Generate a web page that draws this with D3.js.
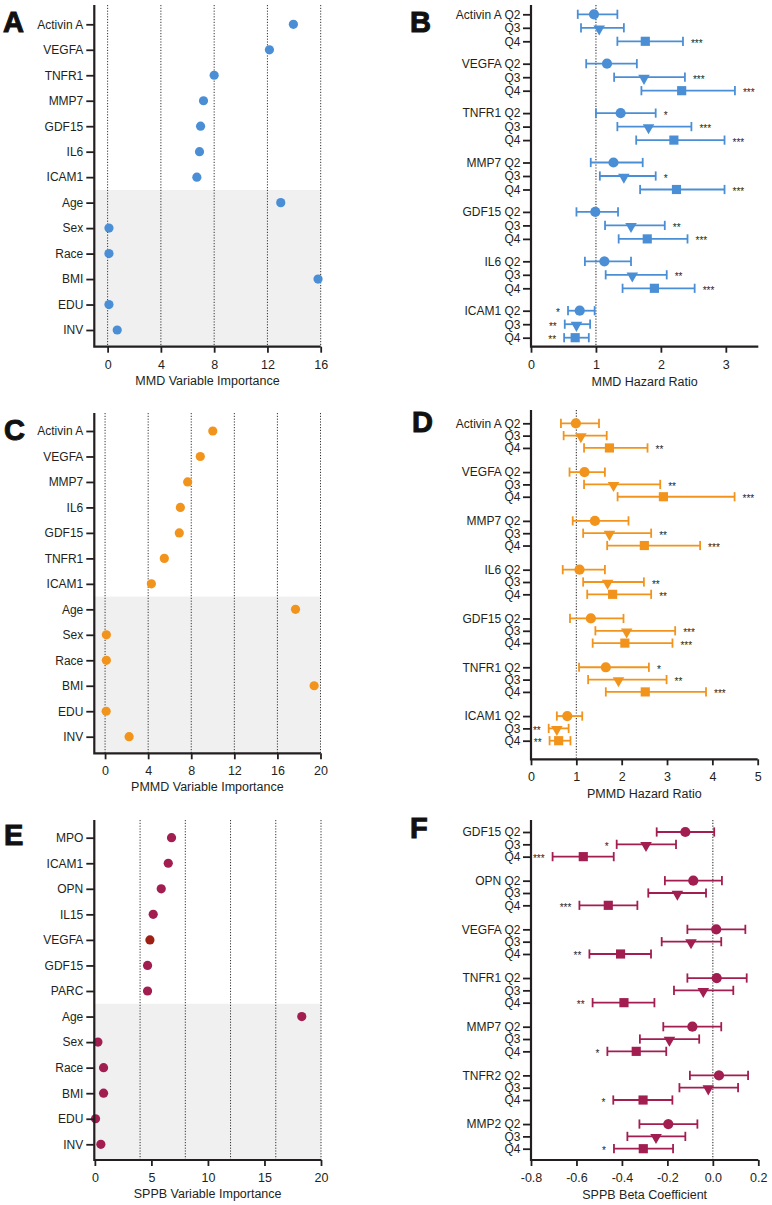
<!DOCTYPE html>
<html><head><meta charset="utf-8">
<script src="https://cdn.jsdelivr.net/npm/d3@7"></script>
<style>
body{margin:0;background:#fff;}
svg{display:block;}
svg text{font-family:"Liberation Sans",Arial,sans-serif;}
</style></head><body>
<svg id="chart" width="772" height="1205"></svg>
<script>
// ---------- DATA ----------
// Panel A: MMD variable importance
const impA_labels = ["Activin A","VEGFA","TNFR1","MMP7","GDF15","IL6","ICAM1","Age","Sex","Race","BMI","EDU","INV"];
const impA_values = [13.95,12.15,8.0,7.2,6.98,6.9,6.7,13.0,0.1,0.1,15.8,0.1,0.72];
const impA_ticks = [0,4,8,12,16];
const impA_grid = [0,4,8,12,16];

// Panel C: PMMD variable importance
const impC_labels = ["Activin A","VEGFA","MMP7","IL6","GDF15","TNFR1","ICAM1","Age","Sex","Race","BMI","EDU","INV"];
const impC_values = [10.0,8.84,7.67,6.99,6.89,5.5,4.3,17.68,0.12,0.12,19.41,0.1,2.23];
const impC_ticks = [0,4,8,12,16,20];
const impC_grid = [0,4,8,12,16,20];

// Panel E: SPPB variable importance
const impE_labels = ["MPO","ICAM1","OPN","IL15","VEGFA","GDF15","PARC","Age","Sex","Race","BMI","EDU","INV"];
const impE_values = [6.78,6.49,5.87,5.16,4.87,4.66,4.66,18.3,0.27,0.77,0.77,0.06,0.53];
const impE_ticks = [0,5,10,15,20];
const impE_grid = [4,8,12,16,20];
const impE_highlight = "VEGFA";

const quartiles = ["Q2","Q3","Q4"];

// Panel B: MMD hazard ratio
const hrB_groups = ["Activin A","VEGFA","TNFR1","MMP7","GDF15","IL6","ICAM1"];
const hrB_est = [[0.97,1.05,1.76],[1.17,1.74,2.32],[1.38,1.81,2.2],[1.27,1.43,2.24],[0.99,1.54,1.79],[1.13,1.56,1.90],[0.75,0.70,0.68]];
const hrB_lo  = [[0.72,0.77,1.33],[0.85,1.28,1.70],[1.0,1.33,1.62],[0.92,1.06,1.68],[0.70,1.14,1.35],[0.83,1.15,1.41],[0.57,0.52,0.51]];
const hrB_hi  = [[1.33,1.43,2.34],[1.63,2.37,3.14],[1.92,2.47,2.98],[1.72,1.92,2.98],[1.34,2.06,2.41],[1.54,2.09,2.52],[0.98,0.91,0.89]];
const hrB_sig = [["","","***"],["","***","***"],["*","***","***"],["","*","***"],["","**","***"],["","**","***"],["*","**","**"]];
const hrB_ticks = [0,1,2,3];

// Panel D: PMMD hazard ratio
const hrD_groups = ["Activin A","VEGFA","MMP7","IL6","GDF15","TNFR1","ICAM1"];
const hrD_est = [[0.99,1.10,1.73],[1.18,1.82,2.92],[1.41,1.73,2.5],[1.07,1.69,1.80],[1.32,2.11,2.07],[1.65,1.93,2.52],[0.80,0.57,0.61]];
const hrD_lo  = [[0.66,0.72,1.17],[0.85,1.17,1.91],[0.92,1.15,1.68],[0.70,1.15,1.24],[0.86,1.42,1.36],[1.06,1.26,1.65],[0.57,0.39,0.41]];
const hrD_hi  = [[1.5,1.67,2.57],[1.63,2.85,4.49],[2.15,2.65,3.73],[1.63,2.49,2.65],[2.04,3.18,3.12],[2.6,2.99,3.86],[1.13,0.83,0.87]];
const hrD_sig = [["","","**"],["","**","***"],["","**","***"],["","**","**"],["","***","***"],["*","**","***"],["","**","**"]];
const hrD_ticks = [0,1,2,3,4,5];

// Panel F: SPPB beta coefficient
const betaF_groups = ["GDF15","OPN","VEGFA","TNFR1","MMP7","TNFR2","MMP2"];
const betaF_est = [[-0.121,-0.294,-0.570],[-0.086,-0.156,-0.460],[0.015,-0.096,-0.406],[0.017,-0.042,-0.391],[-0.090,-0.191,-0.337],[0.027,-0.020,-0.307],[-0.196,-0.250,-0.306]];
const betaF_lo  = [[-0.247,-0.423,-0.705],[-0.211,-0.284,-0.587],[-0.112,-0.225,-0.543],[-0.112,-0.171,-0.529],[-0.218,-0.321,-0.464],[-0.101,-0.147,-0.438],[-0.323,-0.376,-0.435]];
const betaF_hi  = [[0.006,-0.162,-0.436],[0.040,-0.030,-0.332],[0.143,0.037,-0.272],[0.149,0.090,-0.257],[0.037,-0.060,-0.205],[0.155,0.111,-0.178],[-0.068,-0.121,-0.175]];
const betaF_sig = [["","*","***"],["","","***"],["","","**"],["","","**"],["","","*"],["","","*"],["","","*"]];
const betaF_ticks = [-0.8,-0.6,-0.4,-0.2,0,0.2];

// ---------- DRAWING ----------
const svg = d3.select("#chart");
const FONT = '"Liberation Sans", Arial, sans-serif';
const ink = "#231f20";
const BLUE = "#4a8fd6", ORANGE = "#f2941c", CRIMSON = "#a21d50", DARKRED = "#9e2015";

function styleAxis(a, fontSize) {
  a.attr("font-family", null).attr("font-size", null);
  a.select(".domain").remove();
  a.selectAll(".tick line").attr("stroke", ink).attr("stroke-width", 1.8);
  a.selectAll(".tick text").attr("fill", ink).style("font-family", FONT).style("font-size", fontSize + "px");
}

function panelLetter(txt, x, y) {
  svg.append("text").attr("x", x).attr("y", y).text(txt)
    .attr("fill", "#111").style("font-family", FONT).style("font-size", "29px").style("font-weight", "bold")
    .attr("stroke", "#111").attr("stroke-width", 1);
}

function importancePanel(o) {
  const g = svg.append("g");
  const x = d3.scaleLinear().domain(o.xDomain).range([o.left, o.right]);
  const y = d3.scaleLinear().domain([0, o.labels.length - 1]).range([o.firstRow, o.lastRow]);
  const split = (y(o.nBio - 1) + y(o.nBio)) / 2;
  g.append("rect").attr("x", o.left).attr("y", split)
    .attr("width", o.right - o.left).attr("height", o.bottom - split).attr("fill", "#f0f0f0");
  g.selectAll("line.grid").data(o.grid).join("line").attr("class", "grid")
    .attr("x1", d => x(d)).attr("x2", d => x(d)).attr("y1", o.top).attr("y2", o.bottom)
    .attr("stroke", "#333").attr("stroke-width", 1).attr("stroke-dasharray", "1.2,1.6");
  g.selectAll("circle").data(o.values).join("circle")
    .attr("cx", d => x(d)).attr("cy", (d, i) => y(i)).attr("r", 4.6)
    .attr("fill", (d, i) => (o.highlight && o.labels[i] === o.highlight) ? o.hiColor : o.color);
  const ya = g.append("g").attr("transform", `translate(${o.left},0)`)
    .call(d3.axisLeft(y).tickValues(d3.range(o.labels.length)).tickFormat(i => o.labels[i]).tickSize(8).tickPadding(3));
  styleAxis(ya, 12);
  const xa = g.append("g").attr("transform", `translate(0,${o.bottom})`)
    .call(d3.axisBottom(x).tickValues(o.ticks).tickFormat(d3.format("d")).tickSize(6).tickPadding(7));
  styleAxis(xa, 12.5);
  g.append("path").attr("d", `M${o.left},${o.top}V${o.bottom}H${o.right}`)
    .attr("fill", "none").attr("stroke", ink).attr("stroke-width", 2.2);
  g.append("text").attr("x", (o.left + o.right) / 2).attr("y", o.bottom + 38)
    .attr("text-anchor", "middle").attr("fill", ink).style("font-family", FONT).style("font-size", "12.5px").text(o.title);
}

function forestPanel(o) {
  const g = svg.append("g");
  const x = d3.scaleLinear().domain(o.xDomain).range([o.left, o.right]);
  const rows = [];
  o.groups.forEach((gn, gi) => quartiles.forEach((q, qi) => rows.push({
    gn, q, gi, qi, slot: gi * o.groupStep + qi,
    est: o.est[gi][qi], lo: o.lo[gi][qi], hi: o.hi[gi][qi], sig: o.sig[gi][qi]
  })));
  const y = d3.scaleLinear().domain([0, rows[rows.length - 1].slot]).range([o.firstRow, o.lastRow]);
  g.append("line").attr("x1", x(o.ref)).attr("x2", x(o.ref)).attr("y1", o.top).attr("y2", o.bottom)
    .attr("stroke", "#333").attr("stroke-width", 1.1).attr("stroke-dasharray", "1.2,1.6");
  const r = g.selectAll("g.row").data(rows).join("g").attr("class", "row")
    .attr("transform", d => `translate(0,${y(d.slot)})`);
  r.append("line").attr("x1", d => x(d.lo)).attr("x2", d => x(d.hi))
    .attr("stroke", o.color).attr("stroke-width", 1.8);
  r.append("line").attr("x1", d => x(d.lo)).attr("x2", d => x(d.lo)).attr("y1", -4.6).attr("y2", 4.6)
    .attr("stroke", o.color).attr("stroke-width", 1.8);
  r.append("line").attr("x1", d => x(d.hi)).attr("x2", d => x(d.hi)).attr("y1", -4.6).attr("y2", 4.6)
    .attr("stroke", o.color).attr("stroke-width", 1.8);
  const sym = [d3.symbol().type(d3.symbolCircle).size(82), d3.symbol().type(d3.symbolTriangle).size(58), d3.symbol().type(d3.symbolSquare).size(84)];
  r.append("path").attr("d", d => sym[d.qi]())
    .attr("transform", d => `translate(${x(d.est)},${d.qi === 1 ? 1 : 0})` + (d.qi === 1 ? " rotate(180)" : ""))
    .attr("fill", o.color);
  r.filter(d => d.sig).append("text")
    .attr("x", d => d.hi <= o.ref ? x(d.lo) - 8 : x(d.hi) + 8)
    .attr("y", 5.5)
    .attr("text-anchor", d => d.hi <= o.ref ? "end" : "start")
    .attr("fill", ink).style("font-family", FONT).style("font-size", "10px").text(d => d.sig);
  const ya = g.append("g").attr("transform", `translate(${o.left},0)`)
    .call(d3.axisLeft(y).tickValues(rows.map(d => d.slot))
      .tickFormat(s => { const d = rows.find(rr => rr.slot === s); return d.qi === 0 ? d.gn + " " + d.q : d.q; })
      .tickSize(8).tickPadding(2.5));
  styleAxis(ya, 12);
  const xa = g.append("g").attr("transform", `translate(0,${o.bottom})`)
    .call(d3.axisBottom(x).tickValues(o.ticks).tickFormat(o.fmt).tickSize(6).tickPadding(7));
  styleAxis(xa, 12.5);
  g.append("path").attr("d", `M${o.left},${o.top}V${o.bottom}H${o.right}`)
    .attr("fill", "none").attr("stroke", ink).attr("stroke-width", 2.2);
  g.append("text").attr("x", (o.left + o.right) / 2).attr("y", o.bottom + 39)
    .attr("text-anchor", "middle").attr("fill", ink).style("font-family", FONT).style("font-size", "12.5px").text(o.title);
}

importancePanel({labels: impA_labels, values: impA_values, ticks: impA_ticks, grid: impA_grid, nBio: 7,
  xDomain: [-1, 16], left: 94.3, right: 320.7, top: 5, bottom: 346.7, firstRow: 24.3, lastRow: 330,
  color: BLUE, title: "MMD Variable Importance"});
importancePanel({labels: impC_labels, values: impC_values, ticks: impC_ticks, grid: impC_grid, nBio: 7,
  xDomain: [-1, 20], left: 94.3, right: 320.5, top: 413, bottom: 753.3, firstRow: 431, lastRow: 736.7,
  color: ORANGE, title: "PMMD Variable Importance"});
importancePanel({labels: impE_labels, values: impE_values, ticks: impE_ticks, grid: impE_grid, nBio: 7,
  xDomain: [-0.05, 20], left: 94.3, right: 321, top: 820, bottom: 1160, firstRow: 837.7, lastRow: 1144.3,
  color: CRIMSON, highlight: impE_highlight, hiColor: DARKRED, title: "SPPB Variable Importance"});

forestPanel({groups: hrB_groups, est: hrB_est, lo: hrB_lo, hi: hrB_hi, sig: hrB_sig, ticks: hrB_ticks, fmt: d3.format("d"),
  ref: 1, xDomain: [0, 3.5], left: 531, right: 758.3, top: 5, bottom: 346.7, firstRow: 14.3, lastRow: 337.7, groupStep: 3.66,
  color: BLUE, title: "MMD Hazard Ratio"});
forestPanel({groups: hrD_groups, est: hrD_est, lo: hrD_lo, hi: hrD_hi, sig: hrD_sig, ticks: hrD_ticks, fmt: d3.format("d"),
  ref: 1, xDomain: [0, 5], left: 531, right: 757.7, top: 410, bottom: 759.3, firstRow: 423.3, lastRow: 740.7, groupStep: 3.96,
  color: ORANGE, title: "PMMD Hazard Ratio"});
forestPanel({groups: betaF_groups, est: betaF_est, lo: betaF_lo, hi: betaF_hi, sig: betaF_sig, ticks: betaF_ticks, fmt: d => d.toFixed(1),
  ref: 0, xDomain: [-0.8, 0.2], left: 531, right: 758.3, top: 820, bottom: 1160, firstRow: 832, lastRow: 1148.7, groupStep: 3.95,
  color: CRIMSON, title: "SPPB Beta Coefficient"});

panelLetter("A", 3, 32);
panelLetter("B", 410, 32);
panelLetter("C", 4, 440);
panelLetter("D", 412, 432);
panelLetter("E", 4, 845);
panelLetter("F", 410, 838);
</script>
</body></html>
